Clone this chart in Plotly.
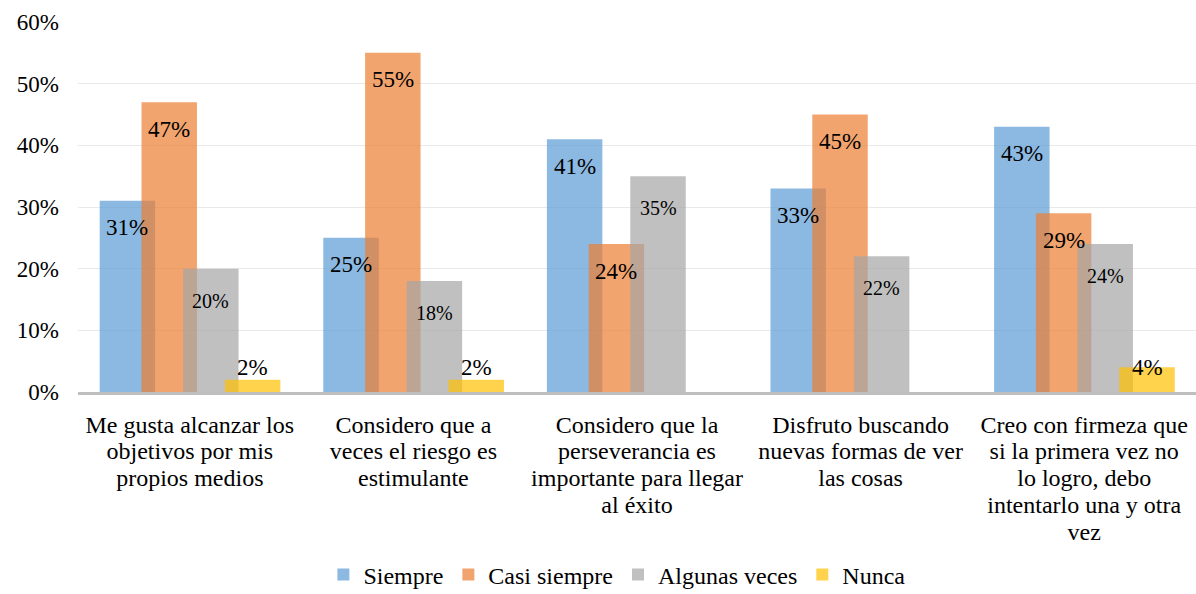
import plotly.graph_objects as go

categorias = [
    "Me gusta alcanzar los<br>objetivos por mis<br>propios medios",
    "Considero que a<br>veces el riesgo es<br>estimulante",
    "Considero que la<br>perseverancia es<br>importante para llegar<br>al éxito",
    "Disfruto buscando<br>nuevas formas de ver<br>las cosas",
    "Creo con firmeza que<br>si la primera vez no<br>lo logro, debo<br>intentarlo una y otra<br>vez",
]
siempre = [31, 25, 41, 33, 43]
casi_siempre = [47, 55, 24, 45, 29]
algunas_veces = [20, 18, 35, 22, 24]
nunca = [2, 2, 0, 0, 4]

FONT = "Liberation Serif"
ANCHO = 0.248

# nombre, valores, color, desplazamiento, tamaño etiqueta, desplazamiento vertical etiqueta
series = [
    ("Siempre", siempre, "rgba(91,155,213,0.7)", -0.403, 23, -27),
    ("Casi siempre", casi_siempre, "rgba(237,125,49,0.7)", -0.216, 23, -27),
    ("Algunas veces", algunas_veces, "rgba(165,165,165,0.7)", -0.030, 20, -32),
    ("Nunca", nunca, "rgba(255,192,0,0.7)", 0.157, 23, 0),
]

fig = go.Figure()
etiquetas = []
for nombre, valores, color, off, size, shift in series:
    fig.add_trace(go.Bar(
        name=nombre,
        x=list(range(len(categorias))),
        y=[v / 100 for v in valores],
        offset=off,
        width=ANCHO,
        marker=dict(color=color, line=dict(width=0)),
        hoverinfo="y+name",
    ))
    for i, v in enumerate(valores):
        if not v:
            continue
        # etiquetas de Nunca: fuera del extremo, con altura mínima
        y_et = max(v, 4) if nombre == "Nunca" else v
        etiquetas.append(dict(
            x=i + off + ANCHO / 2,
            y=y_et / 100,
            text=f"{v}%",
            showarrow=False,
            yanchor="middle",
            xanchor="center",
            yshift=shift,
            font=dict(family=FONT, size=size, color="black"),
        ))

fig.update_layout(
    width=1196,
    height=594,
    barmode="overlay",
    paper_bgcolor="white",
    plot_bgcolor="white",
    margin=dict(l=78, r=0, t=22, b=202, autoexpand=False),
    font=dict(family=FONT, size=24, color="black"),
    annotations=etiquetas,
    legend=dict(
        orientation="h",
        x=0.482, xanchor="center",
        yref="container",
        y=0.032, yanchor="middle",
        font=dict(family=FONT, size=24),
        itemwidth=30,
        traceorder="normal",
    ),
    xaxis=dict(
        tickmode="array",
        tickvals=list(range(len(categorias))),
        ticktext=categorias,
        range=[-0.5, len(categorias) - 0.5],
        showgrid=False,
        showline=True,
        linecolor="#BFBFBF",
        linewidth=2.5,
        ticks="",
        automargin=False,
        ticklabelstandoff=9,
        tickfont=dict(family=FONT, size=24),
    ),
    yaxis=dict(
        range=[0, 0.6],
        dtick=0.1,
        tickformat=".0%",
        showgrid=True,
        gridcolor="#E9E9E9",
        gridwidth=1,
        zeroline=False,
        ticks="",
        automargin=False,
        ticklabelstandoff=18,
        tickfont=dict(family=FONT, size=23),
    ),
)

# interlineado más compacto en las etiquetas de categoría
ajuste = """
document.body.style.margin='0';
document.querySelectorAll('.xtick text tspan.line').forEach(function(t){
  var dy = t.getAttribute('dy');
  if (dy && dy.indexOf('em') > 0) {
    t.setAttribute('dy', (parseFloat(dy) * 0.86) + 'em');
  }
});
"""

fig.write_html("out.html", config={"displayModeBar": False}, post_script=ajuste)
